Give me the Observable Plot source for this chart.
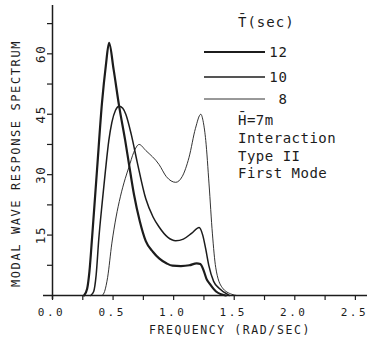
<!DOCTYPE html>
<html>
<head>
<meta charset="utf-8">
<script src="https://cdn.jsdelivr.net/npm/d3@7"></script>
<script src="https://cdn.jsdelivr.net/npm/@observablehq/plot@0.6"></script>
<style>
  html, body { margin: 0; padding: 0; background: #fff; }
  #chart { width: 367px; height: 341px; }
</style>
</head>
<body>
<div id="chart"></div>
<script>
// ---- data ----
const seriesNames = ["12", "10", "8"];            // mean period T (sec)
const seriesWidths = [2.2, 1.5, 0.9];

const freq12 = [0.26, 0.286, 0.305, 0.327, 0.368, 0.409, 0.44, 0.467, 0.505, 0.55, 0.6, 0.632, 0.673, 0.72, 0.77, 0.83, 0.88, 0.94, 0.99, 1.06, 1.13, 1.19, 1.22, 1.25, 1.27, 1.3, 1.35, 1.43];
const val12  = [0, 1.7, 6, 14.5, 31.4, 48, 57, 62.7, 56, 47, 38.5, 32.5, 25, 18.5, 13.5, 10.8, 9.2, 8, 7.4, 7.3, 7.5, 8, 7.8, 6, 4.2, 2.8, 1, 0];

const freq10 = [0.315, 0.34, 0.36, 0.382, 0.41, 0.437, 0.465, 0.49, 0.52, 0.55, 0.58, 0.605, 0.65, 0.7, 0.77, 0.83, 0.88, 0.95, 1.017, 1.08, 1.15, 1.21, 1.24, 1.265, 1.29, 1.33, 1.375, 1.46];
const val10  = [0, 1, 5, 14, 23, 31, 38.5, 43, 46, 47, 46.5, 45, 40, 33, 24, 19.5, 17, 14.5, 13.6, 14, 15.5, 16.9, 15, 11.5, 7.5, 3.5, 1.8, 0];

const freq8 = [0.41, 0.43, 0.455, 0.49, 0.525, 0.56, 0.6, 0.63, 0.67, 0.715, 0.77, 0.88, 0.94, 1.017, 1.07, 1.127, 1.18, 1.224, 1.245, 1.265, 1.292, 1.32, 1.347, 1.4, 1.48, 1.52];
const val8  = [0, 1, 4.5, 13, 19.5, 24.5, 29, 31.8, 35.5, 37.5, 36, 32.5, 29.5, 28.1, 29.5, 34.3, 41.5, 45, 43, 38.5, 27.7, 15.3, 7, 2, 0.3, 0];

const xMinorTicks = [0, 0.25, 0.5, 0.75, 1.0, 1.25, 1.5, 1.75, 2.0, 2.25, 2.5];
const xLabelTicks = [0, 0.5, 1.0, 1.5, 2.0, 2.5];
const yMinorTicks = [7.5, 15, 22.5, 30, 37.5, 45, 52.5, 60, 67.5];
const yLabelTicks = [15, 30, 45, 60];

const xTitle = "FREQUENCY (RAD/SEC)";
const yTitle = "MODAL WAVE RESPONSE SPECTRUM";
const legendTitle = "T\u0304(sec)";
const noteLines = ["H\u0304=7m", "Interaction", "Type II", "First Mode"];

// ---- build table ----
const toRows = (fs, vs, name) => fs.map((f, i) => ({f, v: vs[i], T: name}));
const rows = [
  ...toRows(freq12, val12, seriesNames[0]),
  ...toRows(freq10, val10, seriesNames[1]),
  ...toRows(freq8, val8, seriesNames[2])
];

const ink = "#1c1c1c";
const font = "DejaVu Sans Mono";

const chart = Plot.plot({
  width: 367,
  height: 341,
  marginLeft: 52,
  marginRight: 0,
  marginTop: 5,
  marginBottom: 46,
  x: {domain: [0, 2.6]},
  y: {domain: [0, 72]},
  style: {fontFamily: font, background: "#fff", color: ink},
  marks: [
    Plot.axisX({ticks: xMinorTicks, tickSize: 5, tickFormat: () => "", label: null, strokeWidth: 1.2}),
    Plot.axisX({ticks: xLabelTicks, tickSize: 0, tickPadding: 13, tickFormat: d => d.toFixed(1), label: null, fontSize: 11, dx: -1}),
    Plot.axisY({ticks: yMinorTicks, tickSize: 5, tickFormat: () => "", label: null, strokeWidth: 1.2}),
    Plot.text(yLabelTicks, {y: d => d, text: d => String(d), frameAnchor: "left", textAnchor: "middle", rotate: -90, dx: -12, fontSize: 12.5, fill: ink}),
    Plot.text([yTitle], {frameAnchor: "left", textAnchor: "middle", rotate: -90, dx: -36, dy: 13, fontSize: 12, fill: ink}),
    Plot.text([xTitle], {frameAnchor: "bottom", dx: 20, dy: 38, fontSize: 11.5, fill: ink}),
    Plot.ruleY([0], {insetLeft: -9, stroke: ink, strokeWidth: 1.5}),
    Plot.ruleX([0], {insetBottom: -4, stroke: ink, strokeWidth: 1.5}),
    ...seriesNames.map((name, k) =>
      Plot.line(rows.filter(r => r.T === name), {
        x: "f", y: "v", curve: "monotone-x", stroke: ink, strokeWidth: seriesWidths[k]
      })
    )
  ]
});

document.getElementById("chart").appendChild(chart);

const svg = d3.select(chart);
svg.selectAll('g[aria-label="x-axis tick label"] text').style("letter-spacing", "2.5px");
svg.selectAll('g[aria-label="text"] text').style("letter-spacing", "1.6px");

// ---- legend / annotation (drawn in pixel space on top of the plot) ----
const lg = svg.append("g").attr("font-family", font).attr("fill", ink)
  .attr("font-size", 14).attr("text-anchor", "start");
lg.append("text").attr("x", 238).attr("y", 22).attr("dy", "0.35em")
  .style("letter-spacing", "1px").text(legendTitle);
const legendY = [52, 77, 99];
seriesNames.forEach((name, k) => {
  lg.append("line").attr("x1", 204).attr("x2", 265)
    .attr("y1", legendY[k]).attr("y2", legendY[k])
    .attr("stroke", ink).attr("stroke-width", seriesWidths[k]);
  lg.append("text").attr("x", 288).attr("y", legendY[k]).attr("dy", "0.35em")
    .attr("text-anchor", "end").style("letter-spacing", "1px").text(name);
});
noteLines.forEach((t, i) => {
  lg.append("text").attr("x", 238).attr("y", 120 + i * 17.8).attr("dy", "0.35em")
    .style("letter-spacing", "0.5px").text(t);
});
</script>
</body>
</html>
